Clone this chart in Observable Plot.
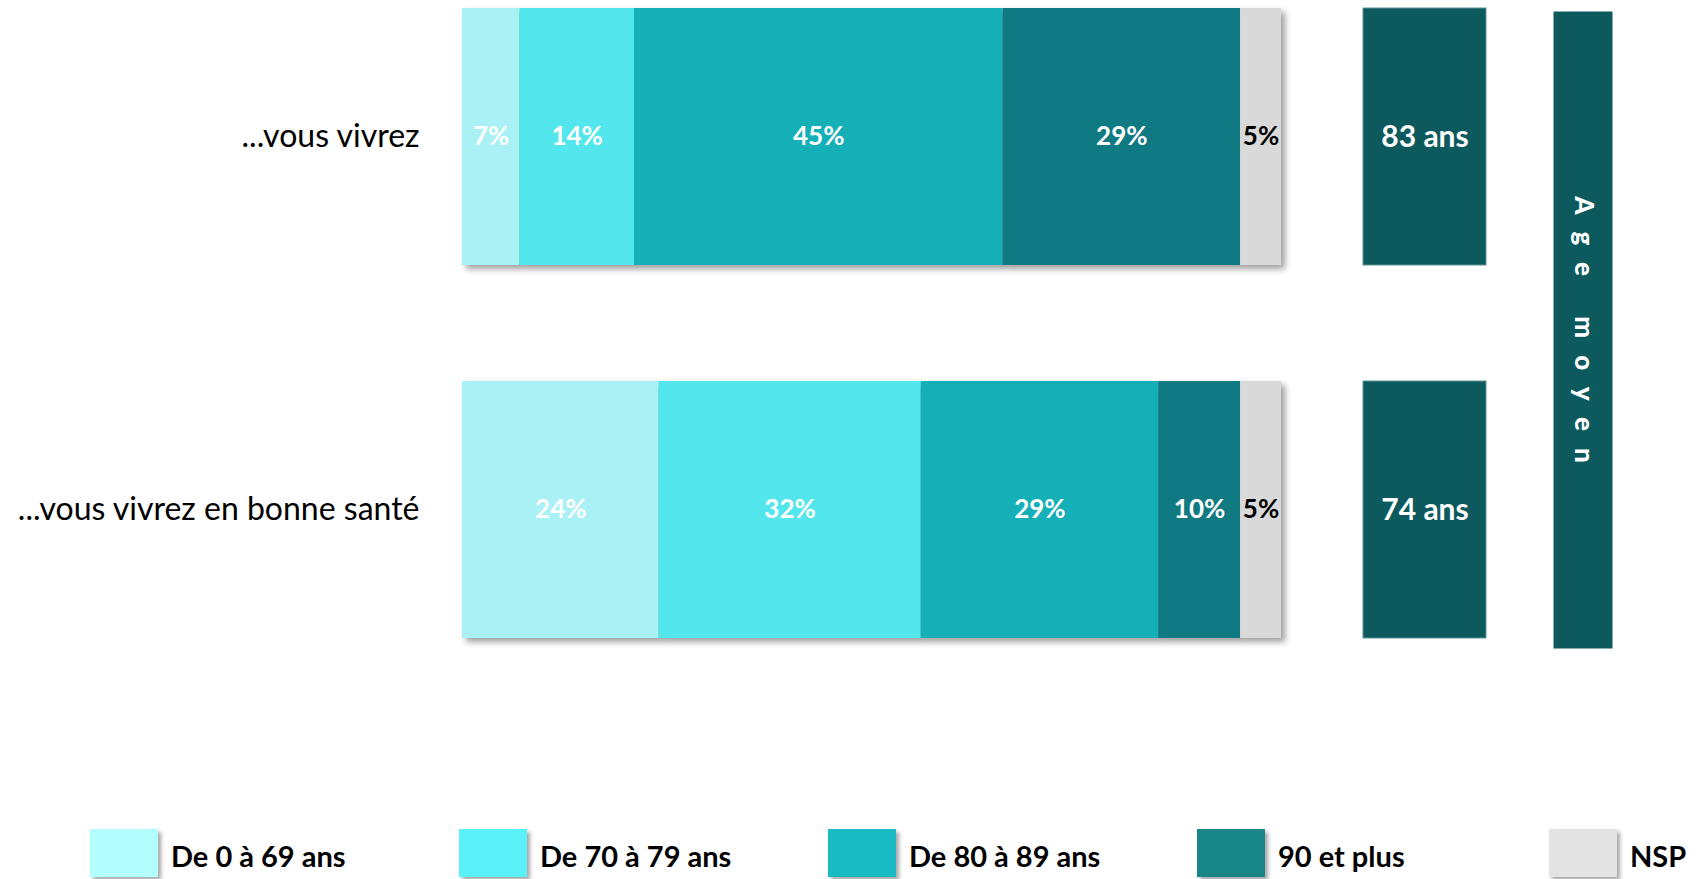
<!DOCTYPE html>
<html>
<head>
<meta charset="utf-8">
<script src="https://cdn.jsdelivr.net/npm/d3@7"></script>
<script src="https://cdn.jsdelivr.net/npm/@observablehq/plot@0.6"></script>
<style>
  html, body { margin: 0; padding: 0; background: #fff; overflow: hidden; }
  #root { position: relative; width: 1697px; height: 879px; font-family: Lato, "Open Sans", sans-serif; }
  #root svg { position: absolute; top: 0; overflow: visible; }
  #legend { position: absolute; left: 90px; top: 829px; display: flex; }
  .item { width: 369px; flex-shrink: 0; display: flex; align-items: flex-start; }
  .item:nth-child(4) { width: 352px; }
  .sw { width: 68px; height: 48px; box-shadow: 3px 3px 4px rgba(0,0,0,0.35); }
  .lab { margin-left: 13px; margin-top: 11px; font-weight: bold; font-size: 29px; line-height: 32px; color: #000; white-space: nowrap; }
</style>
</head>
<body>
<div id="root"><div id="legend"></div></div>
<script>
// ---- data ----
const questions = ["...vous vivrez", "...vous vivrez en bonne santé"];
const categories = ["De 0 à 69 ans", "De 70 à 79 ans", "De 80 à 89 ans", "90 et plus", "NSP"];
const vivrez = [7, 14, 45, 29, 5];
const bonneSante = [24, 32, 29, 10, 5];
const ageMoyen = [83, 74];
const ageTitle = "Age moyen";
const barColors = ["#a9f1f5", "#53e6ed", "#14afb7", "#0f7a82", "#d9d9d9"];
const legendColors = ["#b3fefe", "#5af2f8", "#1abac2", "#188689", "#e3e3e3"];
const ageColor = "#0d5a5e";

const rows = [];
[vivrez, bonneSante].forEach((vals, qi) => {
  vals.forEach((v, ci) => rows.push({question: questions[qi], category: categories[ci], value: v}));
});
const ages = ageMoyen.map((a, i) => ({question: questions[i], age: a}));

const font = "Lato, 'Open Sans', sans-serif";
const H = 660;
const yScale = {domain: questions, paddingInner: 0.311, paddingOuter: 0};

// ---- main stacked bars ----
const main = Plot.plot({
  width: 1290, height: H,
  marginLeft: 462, marginRight: 9, marginTop: 8, marginBottom: H - 638,
  x: {domain: [0, 100], axis: null},
  y: {...yScale, label: null, tickSize: 0, tickPadding: 43},
  color: {domain: categories, range: barColors},
  style: {fontFamily: font, fontSize: "32px", color: "#000", background: "transparent"},
  marks: [
    Plot.barX(rows, {x: "value", y: "question", fill: "category", z: "category"}),
    Plot.text(rows, Plot.stackX({x: "value", y: "question", z: "category",
      text: d => d.category === "NSP" ? "" : d.value + "%",
      fill: "white", fontWeight: "bold", fontSize: 26})),
    Plot.text(rows, Plot.stackX({x: "value", y: "question", z: "category",
      text: d => d.category === "NSP" ? d.value + "%" : "",
      fill: "black", fontWeight: "bold", fontSize: 26}))
  ]
});
main.style.left = "0px";
d3.select(main).select("g[aria-label=bar]").style("filter", "drop-shadow(4px 4px 3px rgba(0,0,0,0.38))");

// ---- average age boxes ----
const agePlot = Plot.plot({
  width: 123, height: H,
  marginLeft: 0, marginRight: 0, marginTop: 8, marginBottom: H - 638,
  y: {...yScale, axis: null},
  style: {fontFamily: font, background: "transparent"},
  marks: [
    Plot.cell(ages, {y: "question", fill: ageColor, stroke: "#5d9395", strokeWidth: 1}),
    Plot.text(ages, {y: "question", text: d => d.age + " ans", fill: "white", fontWeight: "bold", fontSize: 30})
  ]
});
agePlot.style.left = "1363px";

// ---- "Age moyen" vertical band ----
const titlePlot = Plot.plot({
  width: 59, height: H,
  marginLeft: 0, marginRight: 0, marginTop: 11, marginBottom: H - 648,
  style: {fontFamily: font, background: "transparent"},
  marks: [
    Plot.frame({fill: ageColor, stroke: null}),
    Plot.text([ageTitle], {frameAnchor: "middle", text: d => d, rotate: 90, fill: "white", fontWeight: "900", fontSize: 26})
  ]
});
titlePlot.style.left = "1553px";
d3.select(titlePlot).selectAll("g[aria-label=text] text").attr("letter-spacing", "17px").attr("dx", "8");

const root = document.getElementById("root");
root.appendChild(main);
root.appendChild(agePlot);
root.appendChild(titlePlot);

// ---- legend ----
const legend = d3.select("#legend");
categories.forEach((c, i) => {
  const it = legend.append("div").attr("class", "item");
  it.append("div").attr("class", "sw").style("background", legendColors[i]);
  it.append("div").attr("class", "lab").text(c);
});
</script>
</body>
</html>
